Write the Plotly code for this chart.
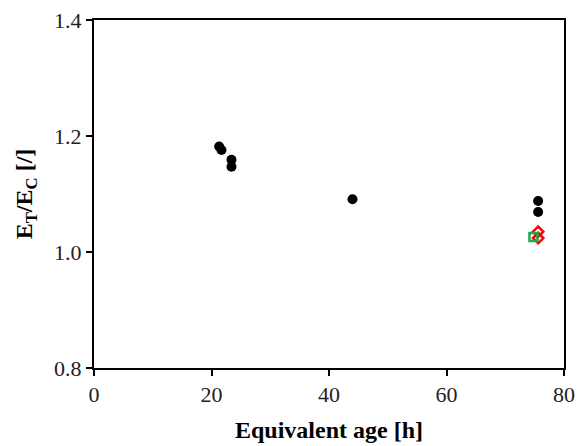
import plotly.graph_objects as go

# Data
age_black = [21.3, 21.7, 23.4, 23.4, 44.0, 75.6, 75.6]
ratio_black = [1.182, 1.176, 1.159, 1.147, 1.091, 1.088, 1.069]

age_red = [75.6, 75.6]
ratio_red = [1.035, 1.024]

age_green = [74.8]
ratio_green = [1.026]

x_ticks = [0, 20, 40, 60, 80]
y_ticks = [0.8, 1.0, 1.2, 1.4]
y_tick_labels = ["0.8", "1.0", "1.2", "1.4"]

fig = go.Figure()
fig.add_trace(go.Scatter(x=age_black, y=ratio_black, mode="markers",
                         marker=dict(symbol="circle", size=10, color="black"),
                         showlegend=False))
fig.add_trace(go.Scatter(x=age_red, y=ratio_red, mode="markers",
                         marker=dict(symbol="diamond-open", size=8, color="red",
                                     line=dict(width=2.5, color="red")),
                         showlegend=False))
fig.add_trace(go.Scatter(x=age_green, y=ratio_green, mode="markers",
                         marker=dict(symbol="square-open", size=8, color="#1fa84f",
                                     line=dict(width=2.5, color="#1fa84f")),
                         showlegend=False))

axis_common = dict(showline=True, linecolor="black", linewidth=2, mirror=True,
                   ticks="outside", ticklen=6, tickwidth=2, tickcolor="black",
                   showgrid=False, zeroline=False, automargin=False,
                   ticklabeloverflow="allow",
                   tickfont=dict(family="Liberation Serif", size=22, color="#222"))

fig.update_xaxes(range=[0, 80], tickvals=x_ticks,
                 title=dict(text="<b>Equivalent age [h]</b>",
                            font=dict(family="Liberation Serif", size=24, color="black")),
                 **axis_common)
fig.update_yaxes(range=[0.8, 1.4], tickvals=y_ticks, ticktext=y_tick_labels,
                 title=dict(text="<b>E<sub>T</sub>/E<sub>C</sub> [/]</b>",
                            font=dict(family="Liberation Serif", size=24, color="black")),
                 **axis_common)

fig.update_layout(width=578, height=446,
                  margin=dict(l=94, r=14, t=20, b=78),
                  plot_bgcolor="white", paper_bgcolor="white")

# remove the page's default body margin so the figure fills the window
fig.write_html("out.html",
               config={"displayModeBar": False},
               post_script="document.body.style.margin='0';"
                           "document.documentElement.style.overflow='hidden';")
